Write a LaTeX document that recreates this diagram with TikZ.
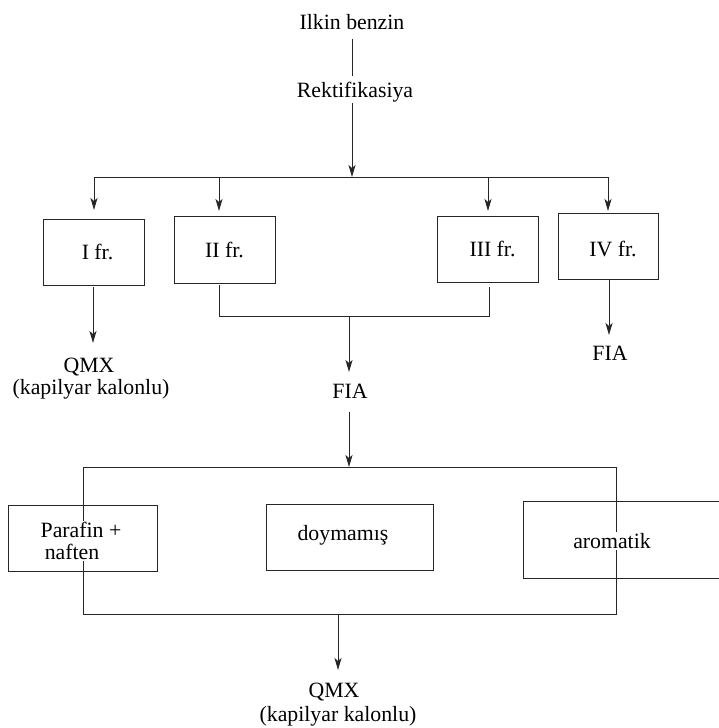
\documentclass[tikz,border=0pt]{standalone}
\usepackage{fontspec}
\setmainfont{Liberation Serif}
\usetikzlibrary{arrows.meta}
\begin{document}
\begin{tikzpicture}[x=1pt,y=-1pt,
  every node/.style={font=\fontsize{21.8}{24}\selectfont, inner sep=1pt},
  line/.style={line width=1pt, draw=black!85},
  arr/.style={line, -{Stealth[length=12pt,width=7pt,inset=3pt]}},
  box/.style={draw=black!85, line width=1pt, minimum width=#1, inner sep=0pt},
  txt/.style={inner sep=1pt},
  wtxt/.style={fill=white, inner sep=1.5pt}]
\useasboundingbox (0,0) rectangle (718,728);

% top texts
\node[txt] (ilkin) at (352,22) {Ilkin benzin};
\node[txt] (rekt) at (355,92) {Rektifikasiya};
\coordinate (l1a) at (352,39);
\coordinate (l1b) at (352,76);
\draw[line] (l1a) -- (l1b);

% distribution bus
\coordinate (r0) at (352,103);
\coordinate (bus) at (352,177);
\draw[arr] (r0) -- (bus);
\coordinate (busL) at (94,177);
\coordinate (busR) at (608,177);
\draw[line] (busL) -- (busR);

% fraction boxes
\node[box=101pt, minimum height=66pt, label={[txt,xshift=4pt]center:I fr.}] (b1) at (93.5,252) {};
\node[box=101pt, minimum height=67pt, label={[txt]center:II fr.}] (b2) at (224.5,249.5) {};
\node[box=101pt, minimum height=66pt, label={[txt,xshift=5pt]center:III fr.}] (b3) at (487.5,249) {};
\node[box=100pt, minimum height=66pt, label={[txt,xshift=5pt,yshift=-3pt]center:IV fr.}] (b4) at (608,246) {};

\coordinate (j1) at (94,177);   \coordinate (t1) at (94,210);
\coordinate (j2) at (219,177);  \coordinate (t2) at (219,211);
\coordinate (j3) at (488,177);  \coordinate (t3) at (488,211);
\coordinate (j4) at (608,177);  \coordinate (t4) at (608,211);
\draw[arr] (j1) -- (t1);
\draw[arr] (j2) -- (t2);
\draw[arr] (j3) -- (t3);
\draw[arr] (j4) -- (t4);

% I fr. -> QMX
\coordinate (s1) at (93,287);
\coordinate (e1) at (93,343);
\draw[arr] (s1) -- (e1);
\node[txt] (qmx1) at (89,367) {QMX};
\node[txt] (kap1) at (91,389) {(kapilyar kalonlu)};

% II + III -> FIA
\coordinate (s2) at (219,285);
\coordinate (s3) at (489,287);
\coordinate (m23) at (349,316);
\draw[line] (s2) -- (219,316) -- (489,316) -- (s3);
\coordinate (e23) at (349,372);
\draw[arr] (m23) -- (e23);
\node[txt] (fia) at (350,391) {FIA};

% IV -> FIA
\coordinate (s4) at (609,280);
\coordinate (e4) at (609,335);
\draw[arr] (s4) -- (e4);
\node[txt] (fia4) at (610,353) {FIA};

% FIA -> group
\coordinate (f0) at (349,412);
\coordinate (f1) at (349,467);
\draw[arr] (f0) -- (f1);

% frame through the group boxes
\draw[line] (83,467) rectangle (616,614);

% group boxes
\node[box=149pt, minimum height=66pt] (bp) at (82.5,538) {};
\node[wtxt, align=center] (tp) at (81,541) {Parafin +\\[-2pt]\hspace*{-18pt}naften};
\node[box=167pt, minimum height=66pt] (bd) at (349.5,537) {};
\node[txt] (td) at (343,535) {doymamış};
\node[box=199pt, minimum height=77pt] (ba) at (622.5,539.5) {};
\node[wtxt] (ta) at (612,541) {aromatik};

% output
\coordinate (o0) at (338,614);
\coordinate (o1) at (338,670);
\draw[arr] (o0) -- (o1);
\node[txt] (qmx2) at (334,692) {QMX};
\node[txt] (kap2) at (338,716) {(kapilyar kalonlu)};
\end{tikzpicture}
\end{document}
